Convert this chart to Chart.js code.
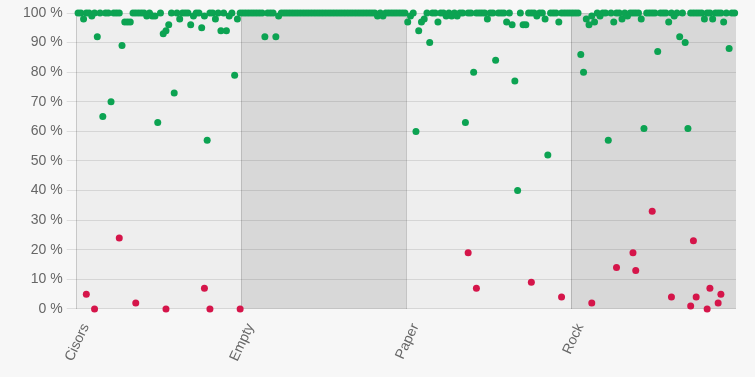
<!DOCTYPE html>
<html>
<head>
<meta charset="utf-8">
<script src="https://cdn.jsdelivr.net/npm/chart.js@4/dist/chart.umd.min.js"></script>
<style>
  html, body { margin: 0; padding: 0; background: #f7f7f7; }
  #wrap { width: 755px; height: 377px; }
</style>
</head>
<body>
<div id="wrap"><canvas id="scoreChart"></canvas></div>
<script>
// Categories (each one owns a band of samples on the x axis)
const categories = ["Cisors", "Empty", "Paper", "Rock"];
const samplesPerCategory = 60;

// Y axis tick values
const yTicks = [0, 10, 20, 30, 40, 50, 60, 70, 80, 90, 100];

// Score of the expected class, per sample
const cisorsGood = [
  100, 100, 98, 100, 100, 99, 100, 92, 100, 65,
  100, 100, 70, 100, 100, 100, 89, 97, 97, 97,
  100, 100, 100, 100, 100, 99, 100, 99, 99, 63,
  100, 93, 94, 96, 100, 73, 100, 98, 100, 100,
  100, 96, 99, 100, 100, 95, 99, 57, 100, 100,
  98, 100, 94, 100, 94, 99, 100, 79, 98, 100
];
const emptyGood = [
  100, 100, 100, 100, 100, 100, 100, 100, 92, 100,
  100, 100, 92, 99, 100, 100, 100, 100, 100, 100,
  100, 100, 100, 100, 100, 100, 100, 100, 100, 100,
  100, 100, 100, 100, 100, 100, 100, 100, 100, 100,
  100, 100, 100, 100, 100, 100, 100, 100, 100, 99,
  100, 99, 100, 100, 100, 100, 100, 100, 100, 100
];
const paperGood = [
  97, 99, 100, 60, 94, 97, 98, 100, 90, 100,
  100, 97, 100, 100, 99, 100, 99, 100, 99, 100,
  100, 63, 100, 100, 80, 100, 100, 100, 100, 98,
  100, 100, 84, 100, 100, 100, 97, 100, 96, 77,
  40, 100, 96, 96, 100, 100, 100, 99, 100, 100,
  98, 52, 100, 100, 100, 97, 100, 100, 100, 100
];
const rockGood = [
  100, 100, 100, 86, 80, 98, 96, 99, 97, 100,
  99, 100, 100, 57, 100, 97, 100, 100, 98, 100,
  99, 100, 100, 100, 100, 98, 61, 100, 100, 100,
  100, 87, 100, 100, 100, 97, 100, 99, 100, 92,
  100, 90, 61, 100, 100, 100, 100, 100, 98, 100,
  100, 98, 100, 100, 100, 97, 100, 88, 100, 100
];

// Score of the wrong class (only where it shows up)
const cisorsBad = [
  null, null, null, 5, null, null, 0, null, null, null,
  null, null, null, null, null, 24, null, null, null, null,
  null, 2, null, null, null, null, null, null, null, null,
  null, null, 0, null, null, null, null, null, null, null,
  null, null, null, null, null, null, 7, null, 0, null,
  null, null, null, null, null, null, null, null, null, 0
];
const emptyBad = [];
const paperBad = [
  null, null, null, null, null, null, null, null, null, null,
  null, null, null, null, null, null, null, null, null, null,
  null, null, 19, null, null, 7, null, null, null, null,
  null, null, null, null, null, null, null, null, null, null,
  null, null, null, null, null, 9, null, null, null, null,
  null, null, null, null, null, null, 4, null, null, null
];
const rockBad = [
  null, null, null, null, null, null, null, 2, null, null,
  null, null, null, null, null, null, 14, null, null, null,
  null, null, 19, 13, null, null, null, null, null, 33,
  null, null, null, null, null, null, 4, null, null, null,
  null, null, null, 1, 23, 4, null, null, null, 0,
  7, null, null, 2, 5, null, null, null, null, null
];

const goodSeries = [cisorsGood, emptyGood, paperGood, rockGood];
const badSeries = [cisorsBad, emptyBad, paperBad, rockBad];

// Turn the per-category arrays into scatter points
function toPoints(series) {
  const pts = [];
  series.forEach((values, c) => {
    values.forEach((v, i) => {
      if (v !== null && v !== undefined) {
        pts.push({ x: c * samplesPerCategory + i + 0.5, y: v });
      }
    });
  });
  return pts;
}

// Alternating band backgrounds behind the points
const bandPlugin = {
  id: "bands",
  beforeDraw(chart) {
    const { ctx, chartArea, scales } = chart;
    ctx.save();
    categories.forEach((_, c) => {
      const x0 = scales.x.getPixelForValue(c * samplesPerCategory);
      const x1 = scales.x.getPixelForValue((c + 1) * samplesPerCategory);
      ctx.fillStyle = c % 2 === 0 ? "#eeeeee" : "#d8d8d8";
      ctx.fillRect(x0, chartArea.top, x1 - x0, chartArea.bottom - chartArea.top);
    });
    ctx.restore();
  },
};

Chart.defaults.font.family = "'Liberation Sans', Arial, sans-serif";
Chart.defaults.font.size = 14;
Chart.defaults.color = "#666";

new Chart(document.getElementById("scoreChart"), {
  type: "scatter",
  data: {
    datasets: [
      {
        label: "correct",
        data: toPoints(goodSeries),
        backgroundColor: "#0ca352",
        pointRadius: 3.5,
        pointBorderWidth: 0,
        clip: false,
      },
      {
        label: "wrong",
        data: toPoints(badSeries),
        backgroundColor: "#d5154a",
        pointRadius: 3.5,
        pointBorderWidth: 0,
        clip: false,
      },
    ],
  },
  options: {
    responsive: true,
    maintainAspectRatio: false,
    animation: false,
    layout: { padding: { top: 13, right: 19, left: 19, bottom: 1 } },
    plugins: {
      legend: { display: false },
      tooltip: { enabled: false },
    },
    scales: {
      x: {
        type: "linear",
        min: 0,
        max: categories.length * samplesPerCategory,
        afterBuildTicks: (axis) => {
          axis.ticks = categories.map((_, c) => ({ value: c * samplesPerCategory }));
        },
        ticks: {
          autoSkip: false,
          minRotation: 65,
          maxRotation: 65,
          padding: 12,
          labelOffset: 9,
          callback: (v) => categories[Math.round(v / samplesPerCategory)],
        },
        grid: { color: "rgba(0,0,0,0.18)", drawTicks: false },
        border: { display: false },
      },
      y: {
        min: 0,
        max: 100,
        afterBuildTicks: (axis) => {
          axis.ticks = yTicks.map((v) => ({ value: v }));
        },
        ticks: { callback: (v) => v + " %", padding: 4 },
        grid: { color: "rgba(0,0,0,0.1)", tickLength: 10 },
        border: { display: false },
      },
    },
  },
  plugins: [bandPlugin],
});
</script>
</body>
</html>
